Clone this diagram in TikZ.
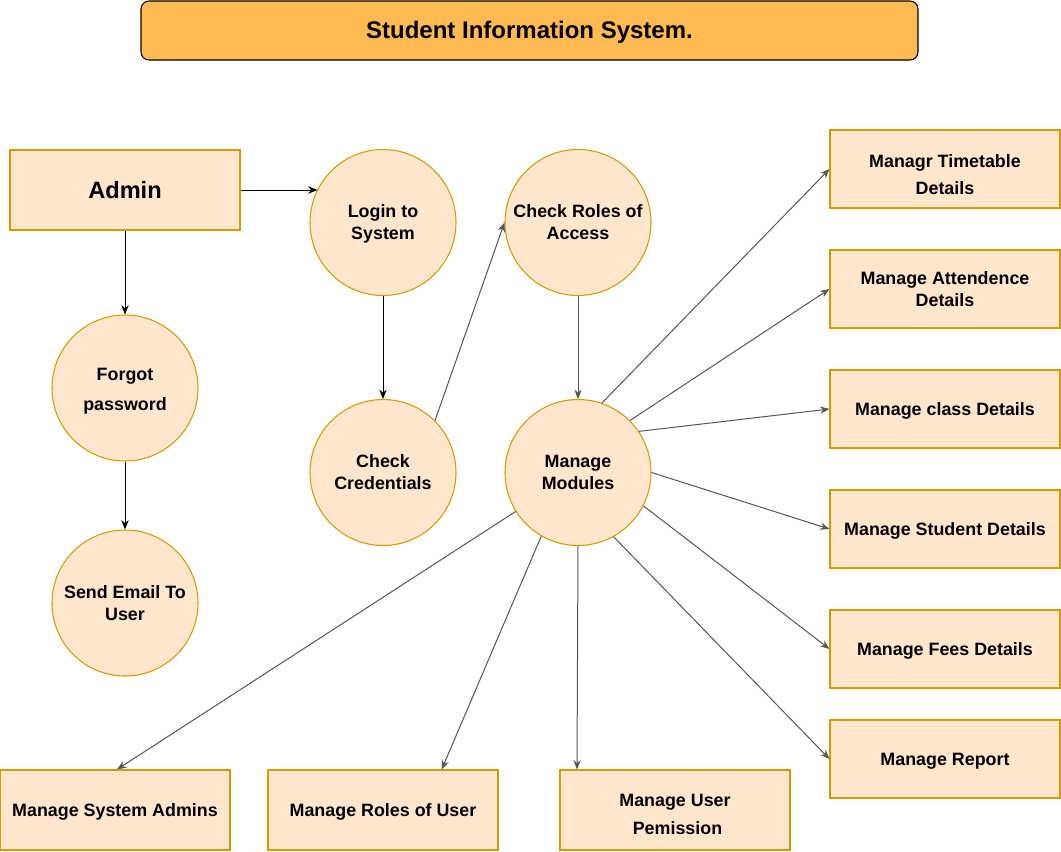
\documentclass[tikz,border=0pt]{standalone}
\usepackage{fontspec}
\setmainfont{Liberation Sans}
\usetikzlibrary{arrows.meta}
\definecolor{boxfill}{HTML}{FFE6CC}
\definecolor{boxdraw}{HTML}{D79B00}
\definecolor{titlefill}{HTML}{FFBA52}
\definecolor{linegray}{HTML}{555555}
% line strut like an Arial line box
\newcommand{\ls}{\rule[-0.212em]{0pt}{1.117em}}
\newcommand{\lsx}[1]{\rule[-0.212em]{0pt}{\dimexpr1.117em+#1\relax}}
\tikzset{
  px/.style={x=0.75pt,y=-0.75pt},
  procbox/.style={draw=boxdraw,fill=boxfill,line width=0.8pt,minimum width=172.5pt,minimum height=58.5pt,inner sep=0pt,align=center,font=\bfseries\fontsize{13.4}{16.5}\selectfont},
  proccirc/.style={circle,draw=boxdraw,fill=boxfill,line width=0.8pt,minimum size=109.5pt,inner sep=0pt,align=center,font=\bfseries\fontsize{13.4}{16.5}\selectfont},
  blackarrow/.style={draw=black,line width=0.75pt,-{Stealth[length=7pt,width=5.5pt]}},
  grayarrow/.style={draw=linegray,line width=0.75pt,-{Stealth[length=7pt,width=5.5pt]}},
}
\begin{document}
\begin{tikzpicture}[px]
\useasboundingbox (0,0) rectangle (1061,851);
% title
\node[draw=black,fill=titlefill,rounded corners=6pt,line width=0.8pt,minimum width=582.75pt,minimum height=44.25pt,inner sep=0pt,font=\bfseries\fontsize{18}{21}\selectfont] (title) at (529.5,30.5) {\ls Student Information System.};
% admin
\node[procbox,font=\bfseries\fontsize{17.7}{21}\selectfont,minimum height=60pt] (admin) at (125,190) {\ls Admin};
% circles
\node[proccirc] (login) at (383,222.5) {\ls Login to\\\ls System};
\node[proccirc] (roles) at (578,222.5) {\ls Check Roles of\\\ls Access};
\node[proccirc,font=\bfseries\fontsize{13.4}{22}\selectfont] (forgot) at (125,388) {\lsx{2pt}Forgot\\\ls password};
\node[proccirc] (email) at (125,603) {\ls Send Email To\\\ls User};
\node[proccirc] (cred) at (383,472.5) {\ls Check\\\ls Credentials};
\node[proccirc] (mm) at (578,472.5) {\ls Manage\\\ls Modules};
% right boxes
\node[procbox,font=\bfseries\fontsize{13.4}{20}\selectfont] (tt) at (945,169) {\lsx{8.25pt}Managr Timetable\\\ls Details};
\node[procbox] (att) at (945,289) {\ls Manage Attendence\\\ls Details};
\node[procbox] (cls) at (945,409) {\ls Manage class Details};
\node[procbox] (stu) at (945,529) {\ls Manage Student Details};
\node[procbox] (fee) at (945,649) {\ls Manage Fees Details};
\node[procbox] (rep) at (945,759) {\ls Manage Report};
% bottom boxes
\node[procbox,minimum height=60pt] (sys) at (115,810) {\ls Manage System Admins};
\node[procbox,minimum height=60pt] (rol) at (383,810) {\ls Manage Roles of User};
\node[procbox,minimum height=60pt,font=\bfseries\fontsize{13.4}{21}\selectfont] (perm) at (675,810) {\lsx{6.75pt}Manage User\\\ls\ Pemission};
% connectors
\draw[blackarrow] (admin.east) -- (admin.east -| login.153.6);
\draw[blackarrow] (admin.south) -- (forgot.north);
\draw[blackarrow] (forgot.south) -- (email.north);
\draw[blackarrow] (login.south) -- (cred.north);
\draw[grayarrow] (cred.45) -- (roles.west);
\draw[grayarrow] (roles.south) -- (mm.north);
\draw[grayarrow] (mm.71) -- (tt.west);
\draw[grayarrow] (mm.45) -- (att.west);
\draw[grayarrow] (mm.34) -- (cls.west);
\draw[grayarrow] (mm.0) -- (stu.west);
\draw[grayarrow] (mm.-27) -- (fee.west);
\draw[grayarrow] (mm.-61) -- (rep.west);
\draw[grayarrow] (mm.south) -- ([xshift=-73.5pt]perm.north);
\draw[grayarrow] (mm.-120) -- ([xshift=44pt]rol.north);
\draw[grayarrow] (mm.-148) -- ([xshift=1.5pt]sys.north);
\end{tikzpicture}
\end{document}
